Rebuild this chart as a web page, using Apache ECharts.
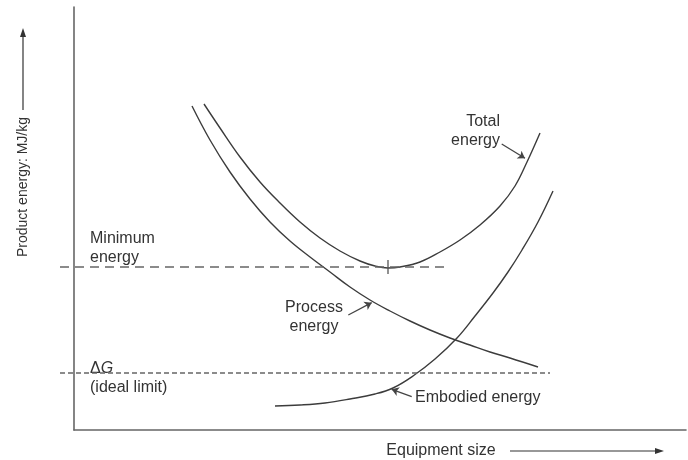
<!DOCTYPE html>
<html>
<head>
<meta charset="utf-8">
<script src="https://cdn.jsdelivr.net/npm/echarts@6/dist/echarts.min.js"></script>
<style>
html,body{margin:0;padding:0;background:#fff;}
#chart{width:688px;height:460px;}
</style>
</head>
<body>
<div id="chart"></div>
<script>
// Values in chart units: x = equipment size, y = product energy (arbitrary units)
var processEnergy = [[118,324],[136,290],[156,258],[176,231],[196,208],[216,189],[236,173],[256,158],[276,143],[296,130],[316,119],[336,109],[356,100],[376,92],[396,85],[416,78],[436,72],[464,63]];
var totalEnergy = [[130,326],[146,302],[166,273],[186,248],[206,227],[226,208],[246,192],[266,179],[286,169],[301,164],[314,162],[326,163],[346,168],[366,178],[386,190],[406,205],[426,224],[441,244],[453,268],[466,297]];
var embodiedEnergy = [[201,24],[226,25],[251,27],[276,31],[301,36],[319,42],[339,54],[361,71],[383,92],[401,114],[419,137],[434,158],[448,180],[464,208],[479,239]];
var minimumEnergyLine = [[-14,163],[373,163]];
var deltaGLine = [[-14,57],[476,57]];
var minimumMarker = [[314,170],[314,156]];
var arrows = [
  [[427.7,286],[451,271.7]],
  [[274.3,115],[297.7,127.3]],
  [[337.7,33.3],[317.7,40.7]]
];

var chart = echarts.init(document.getElementById('chart'));
var curveStyle = {color:'#3c3c3c', width:1.4};
var font = 'Liberation Sans, Arial, sans-serif';
var fam = 'Liberation Sans';
var txt = '#333';

var option = {
  animation:false,
  backgroundColor:'#fff',
  grid:[
    {left:74, right:2, top:7, bottom:30},
    {left:60, right:2, top:7, bottom:30}
  ],
  xAxis:[
    {type:'value', gridIndex:0, min:0, max:612, axisLine:{show:true, onZero:false, lineStyle:{color:'#666', width:1.6}},
      axisTick:{show:false}, axisLabel:{show:false}, splitLine:{show:false}},
    {type:'value', gridIndex:1, min:-14, max:612, show:false, splitLine:{show:false}}
  ],
  yAxis:[
    {type:'value', gridIndex:0, min:0, max:423, axisLine:{show:true, onZero:false, lineStyle:{color:'#666', width:1.6}},
      axisTick:{show:false}, axisLabel:{show:false}, splitLine:{show:false}},
    {type:'value', gridIndex:1, min:0, max:423, show:false, splitLine:{show:false}}
  ],
  series:[
    {type:'line', data:processEnergy, smooth:0.4, showSymbol:false, lineStyle:curveStyle},
    {type:'line', data:totalEnergy, smooth:0.4, showSymbol:false, lineStyle:curveStyle},
    {type:'line', data:embodiedEnergy, smooth:0.4, showSymbol:false, lineStyle:curveStyle},
    {type:'line', xAxisIndex:1, yAxisIndex:1, data:minimumEnergyLine, showSymbol:false, lineStyle:{color:'#666', width:1.5, type:[9,6]}},
    {type:'line', xAxisIndex:1, yAxisIndex:1, data:deltaGLine, showSymbol:false, lineStyle:{color:'#666', width:1.4, type:[5,3]}},
    {type:'line', data:minimumMarker, showSymbol:false, lineStyle:{color:'#555', width:1.3}},
    {type:'lines', coordinateSystem:'cartesian2d', symbol:['none','arrow'], symbolSize:7,
      lineStyle:{color:'#444', width:1.3, opacity:1},
      data:arrows.map(function(a){return {coords:a};})}
  ],
  graphic:[
    {type:'text', left:90, top:229, style:{text:'Minimum\nenergy', font:'16px '+font, fill:txt, lineHeight:19}},
    {type:'text', left:90, top:359, style:{
      text:'{d|Δ}{g|G}\n{n|(ideal limit)}', fontSize:16, fontFamily:fam, fill:txt, lineHeight:19,
      rich:{d:{fontSize:16, fontFamily:fam, fill:txt},
            g:{fontSize:16, fontFamily:fam, fontStyle:'italic', fill:txt},
            n:{fontSize:16, fontFamily:fam, fill:txt}}}},
    {type:'text', x:500, y:112, style:{text:'Total\nenergy', font:'16px '+font, fill:txt, align:'right', lineHeight:19}},
    {type:'text', x:314, y:298, style:{text:'Process\nenergy', font:'16px '+font, fill:txt, align:'center', lineHeight:19}},
    {type:'text', x:415, y:390, style:{text:'Embodied energy', font:'16px '+font, fill:txt}},
    {type:'text', x:441, y:451, style:{text:'Equipment size', font:'16px '+font, fill:txt, align:'center', verticalAlign:'middle'}},
    {type:'text', x:23, y:187, rotation:Math.PI/2, style:{text:'Product energy: MJ/kg', font:'14px '+font, fill:txt, align:'center', verticalAlign:'middle'}},
    {type:'line', shape:{x1:510, y1:451, x2:657, y2:451}, style:{stroke:'#333', lineWidth:1.2}},
    {type:'polygon', shape:{points:[[664,451],[655,448],[655,454]]}, style:{fill:'#333'}},
    {type:'line', shape:{x1:23, y1:110, x2:23, y2:36}, style:{stroke:'#333', lineWidth:1.2}},
    {type:'polygon', shape:{points:[[23,28],[20,37],[26,37]]}, style:{fill:'#333'}}
  ]
};
chart.setOption(option);
</script>
</body>
</html>
